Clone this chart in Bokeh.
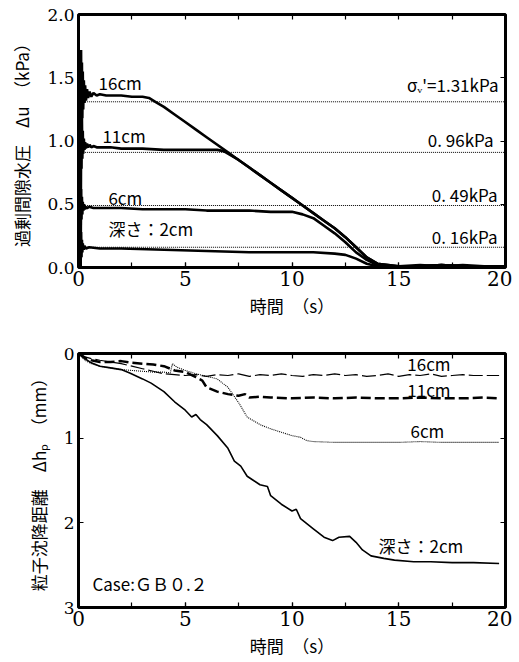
from bokeh.plotting import figure
from bokeh.models import (LinearAxis, Range1d, SingleIntervalTicker, Label,
                          NumeralTickFormatter, CustomJSTickFormatter)
from bokeh.layouts import column
from bokeh.embed import file_html
from bokeh.resources import INLINE

# ---------------- data: excess pore pressure (top) ----------------
t16 = [0.0, 0.10, 0.12, 0.14, 0.16, 0.18, 0.20, 0.22, 0.25, 0.28,
       0.31, 0.35, 0.40, 0.45, 0.52, 0.60, 0.70, 0.85, 1.0, 1.3,
       1.6, 2.0, 2.5, 3.0, 3.3, 3.6, 4.0, 4.5, 5.0, 5.5,
       6.0, 6.5, 7.0, 7.5, 8.0, 8.5, 9.0, 9.5, 10.0, 10.5,
       11.0, 11.5, 12.0, 12.5, 13.0, 13.5, 14.0, 14.5, 15.0, 16.0,
       17.0, 18.0, 19.0, 20.0]
u16 = [0.0, 0.0, 1.72, 1.05, 1.62, 1.18, 1.55, 1.25, 1.48, 1.30,
       1.44, 1.32, 1.41, 1.34, 1.39, 1.35, 1.38, 1.36, 1.37, 1.36,
       1.36, 1.36, 1.35, 1.35, 1.34, 1.31, 1.27, 1.21, 1.15, 1.09,
       1.03, 0.97, 0.91, 0.85, 0.79, 0.73, 0.67, 0.61, 0.55, 0.49,
       0.43, 0.37, 0.31, 0.24, 0.16, 0.08, 0.03, 0.02, 0.01, 0.02,
       0.01, 0.02, 0.01, 0.01]

t11 = [0.0, 0.10, 0.12, 0.14, 0.16, 0.18, 0.20, 0.22, 0.25, 0.28,
       0.31, 0.35, 0.40, 0.45, 0.52, 0.60, 0.70, 0.85, 1.0, 1.5,
       2.0, 3.0, 4.0, 5.0, 6.0, 6.5, 6.8, 7.0, 7.5, 8.0,
       8.5, 9.0, 9.5, 10.0, 10.5, 11.0, 11.5, 12.0, 12.5, 13.0,
       13.5, 14.0, 14.5, 15.0, 16.0, 17.0, 18.0, 19.0, 20.0]
u11 = [0.0, 0.0, 1.30, 0.78, 1.18, 0.86, 1.08, 0.90, 1.02, 0.93,
       0.99, 0.94, 0.98, 0.95, 0.97, 0.95, 0.96, 0.95, 0.95, 0.95,
       0.94, 0.94, 0.93, 0.93, 0.93, 0.93, 0.92, 0.90, 0.85, 0.79,
       0.73, 0.67, 0.61, 0.55, 0.49, 0.43, 0.37, 0.31, 0.24, 0.16,
       0.08, 0.03, 0.02, 0.01, 0.01, 0.02, 0.01, 0.01, 0.01]

t6 = [0.0, 0.10, 0.12, 0.14, 0.16, 0.18, 0.20, 0.23, 0.26, 0.30,
      0.35, 0.40, 0.50, 0.70, 1.0, 2.0, 3.0, 4.0, 5.0, 6.0,
      7.0, 8.0, 9.0, 9.5, 10.0, 10.5, 11.0, 11.5, 12.0, 12.5,
      13.0, 13.5, 14.0, 14.5, 15.0, 16.0, 17.0, 18.0, 19.0, 20.0]
u6 = [0.0, 0.0, 0.62, 0.38, 0.56, 0.42, 0.52, 0.45, 0.50, 0.46,
      0.48, 0.47, 0.48, 0.47, 0.47, 0.47, 0.46, 0.46, 0.46, 0.45,
      0.45, 0.45, 0.44, 0.44, 0.44, 0.42, 0.39, 0.33, 0.27, 0.20,
      0.12, 0.06, 0.02, 0.01, 0.01, 0.01, 0.02, 0.01, 0.01, 0.01]

t2 = [0.0, 0.10, 0.12, 0.14, 0.16, 0.18, 0.20, 0.24, 0.28, 0.35,
      0.50, 1.0, 2.0, 4.0, 6.0, 8.0, 10.0, 11.0, 12.0, 12.5,
      13.0, 13.5, 14.0, 14.5, 15.0, 16.0, 17.0, 18.0, 19.0, 20.0]
u2 = [0.0, 0.0, 0.28, 0.08, 0.22, 0.12, 0.19, 0.14, 0.17, 0.15,
      0.16, 0.15, 0.15, 0.14, 0.13, 0.12, 0.12, 0.12, 0.11, 0.10,
      0.07, 0.03, 0.01, 0.01, 0.01, 0.01, 0.02, 0.01, 0.01, 0.01]

sigma_levels = [1.31, 0.91, 0.49, 0.16]
sigma_texts = ["σᵥ'=1.31kPa", "0. 96kPa", "0. 49kPa", "0. 16kPa"]

# ---------------- data: particle settlement (bottom) ----------------
ts2 = [0, 0.3, 0.6, 1.0, 1.5, 2.0, 2.4, 3.0, 3.4, 4.0,
       4.5, 5.0, 5.3, 5.5, 5.7, 6.0, 6.5, 7.0, 7.3, 7.6,
       7.9, 8.2, 8.5, 8.85, 9.0, 9.5, 10.0, 10.2, 10.4, 11.0,
       11.5, 11.9, 12.2, 12.7, 13.0, 13.3, 13.7, 14.3, 14.8, 15.7,
       16.5, 17.5, 18.5, 19.7]
hs2 = [0, 0.06, 0.11, 0.15, 0.17, 0.19, 0.23, 0.30, 0.35, 0.45,
       0.57, 0.67, 0.75, 0.72, 0.78, 0.84, 0.97, 1.12, 1.27, 1.33,
       1.45, 1.50, 1.55, 1.57, 1.68, 1.78, 1.86, 1.84, 1.95, 2.07,
       2.17, 2.21, 2.17, 2.16, 2.23, 2.32, 2.39, 2.42, 2.44, 2.46,
       2.46, 2.47, 2.47, 2.48]

ts6 = [0, 0.3, 0.6, 1.0, 1.5, 2.0, 2.5, 3.0, 3.5, 4.0,
       4.3, 4.4, 4.6, 5.0, 5.5, 6.0, 6.5, 7.0, 7.5, 7.9,
       8.5, 9.0, 9.5, 10.0, 10.4, 10.7, 11, 12, 13, 14,
       15, 16, 17, 18, 19, 19.7]
hs6 = [0, 0.08, 0.12, 0.15, 0.17, 0.19, 0.20, 0.21, 0.22, 0.22,
       0.23, 0.12, 0.16, 0.20, 0.24, 0.27, 0.30, 0.40, 0.58, 0.75,
       0.84, 0.89, 0.93, 0.97, 0.99, 1.03, 1.04, 1.05, 1.05, 1.05,
       1.05, 1.04, 1.05, 1.05, 1.05, 1.05]

ts11 = [0, 0.3, 0.6, 1.0, 1.5, 2.0, 2.5, 3.0, 3.5, 4.0,
        4.5, 5.0, 5.5, 5.8, 6.0, 6.5, 7.0, 7.5, 7.8, 8.0,
        8.5, 9, 10, 11, 12, 13, 14, 15, 16, 17,
        18, 19, 19.7]
hs11 = [0, 0.05, 0.08, 0.10, 0.10, 0.09, 0.11, 0.12, 0.13, 0.15,
        0.20, 0.22, 0.28, 0.32, 0.40, 0.45, 0.48, 0.50, 0.48, 0.52,
        0.51, 0.52, 0.53, 0.52, 0.53, 0.52, 0.53, 0.53, 0.52, 0.53,
        0.53, 0.52, 0.53]

ts16 = [0, 0.3, 0.6, 1.0, 1.5, 2.0, 2.5, 3.0, 3.5, 4.0,
        4.5, 5.0, 5.5, 6.0, 6.5, 7.0, 7.5, 8.0, 8.5, 9.0,
        9.5, 10.0, 10.5, 11.0, 11.5, 12.0, 12.5, 13.0, 13.5, 14.0,
        14.5, 15.0, 15.5, 16.0, 16.5, 17.0, 17.5, 18.0, 18.5, 19.0,
        19.7]
hs16 = [0, 0.04, 0.06, 0.08, 0.10, 0.12, 0.15, 0.18, 0.21, 0.24,
        0.25, 0.26, 0.25, 0.27, 0.25, 0.26, 0.24, 0.27, 0.25, 0.26,
        0.24, 0.26, 0.27, 0.25, 0.26, 0.24, 0.26, 0.25, 0.27, 0.26,
        0.24, 0.27, 0.25, 0.26, 0.24, 0.27, 0.26, 0.25, 0.26, 0.26,
        0.26]

JP = "Noto Sans CJK JP"
SERIF = "DejaVu Serif"
blank = CustomJSTickFormatter(code="return ''")


def style(p, yticker, mirror_yticker, yfmt=None):
    p.grid.visible = False
    p.outline_line_color = "black"
    p.outline_line_width = 3
    p.background_fill_color = "white"
    p.border_fill_color = "white"
    for ax in (p.xaxis[0], p.yaxis[0]):
        ax.axis_line_color = None
        ax.major_tick_in = 5
        ax.major_tick_out = 0
        ax.minor_tick_in = 5
        ax.minor_tick_out = 0
        ax.major_tick_line_width = 1.2
        ax.minor_tick_line_width = 1.2
        ax.major_label_text_font = SERIF
        ax.major_label_text_color = "black"
        ax.axis_label_text_font = JP
        ax.axis_label_text_font_style = "normal"
        ax.axis_label_text_font_size = "17px"
        ax.axis_label_text_color = "black"
    p.xaxis[0].ticker = SingleIntervalTicker(interval=5, num_minor_ticks=2)
    p.xaxis[0].major_label_text_font_size = "20px"
    p.xaxis[0].major_label_standoff = 3
    p.xaxis[0].axis_label = "時間　（s）"
    p.xaxis[0].axis_label_standoff = 4
    p.yaxis[0].ticker = yticker
    p.yaxis[0].major_label_text_font_size = "17px"
    p.yaxis[0].major_label_standoff = 4
    p.yaxis[0].axis_label_standoff = 10
    if yfmt is not None:
        p.yaxis[0].formatter = yfmt
    top = LinearAxis(ticker=SingleIntervalTicker(interval=2.5), formatter=blank)
    right = LinearAxis(ticker=mirror_yticker, formatter=blank)
    for ax in (top, right):
        ax.axis_line_color = None
        ax.major_tick_in = 5
        ax.major_tick_out = 0
        ax.minor_tick_in = 0
        ax.minor_tick_out = 0
        ax.major_tick_line_width = 1.2
        ax.major_label_text_font_size = "0px"
        ax.major_label_standoff = 0
    p.add_layout(top, "above")
    p.add_layout(right, "right")


# ---------------- top figure ----------------
p1 = figure(width=512, height=320, x_range=Range1d(0, 20), y_range=Range1d(0, 2),
            output_backend="svg", toolbar_location=None,
            min_border_left=78, min_border_right=7, min_border_top=14, min_border_bottom=51)
style(p1, SingleIntervalTicker(interval=0.5, num_minor_ticks=0),
      SingleIntervalTicker(interval=0.5, num_minor_ticks=0),
      NumeralTickFormatter(format="0.0"))
p1.yaxis[0].axis_label = "過剰間隙水圧　Δu　（kPa）"

p1.segment(x0=0.3, x1=20, y0=sigma_levels, y1=sigma_levels,
           line_color="black", line_width=1, line_dash="1 1")
for tt, uu in ((t2, u2), (t6, u6), (t11, u11), (t16, u16)):
    p1.line(tt, uu, line_color="black", line_width=2.6)

lab_kw = dict(text_font=JP, text_font_size="17px", text_color="black",
              text_baseline="middle")
p1.add_layout(Label(x=0.94, y=1.465, text="16cm", **lab_kw))
p1.add_layout(Label(x=1.12, y=1.045, text="11cm", **lab_kw))
p1.add_layout(Label(x=1.4, y=0.55, text="6cm", **lab_kw))
p1.add_layout(Label(x=1.4, y=0.306, text="深さ：2cm", **lab_kw))
for xx, yy, tx in zip([19.67, 19.44, 19.63, 19.63], [1.445, 1.013, 0.58, 0.245], sigma_texts):
    p1.add_layout(Label(x=xx, y=yy, text=tx, text_align="right", **lab_kw))

# ---------------- bottom figure ----------------
p2 = figure(width=512, height=340, x_range=Range1d(0, 20), y_range=Range1d(3, 0),
            output_backend="svg", toolbar_location=None,
            min_border_left=78, min_border_right=7, min_border_top=33, min_border_bottom=51)
style(p2, SingleIntervalTicker(interval=1, num_minor_ticks=0),
      SingleIntervalTicker(interval=1, num_minor_ticks=0))
p2.yaxis[0].axis_label = "粒子沈降距離　Δhₚ　（mm）"

p2.line(ts16, hs16, line_color="black", line_width=1.2, line_dash="14 4")
p2.line(ts11, hs11, line_color="black", line_width=2.5, line_dash="10 4")
p2.line(ts6, hs6, line_color="black", line_width=1.1, line_dash="1 1")
p2.line(ts2, hs2, line_color="black", line_width=1.6)

p2.add_layout(Label(x=15.4, y=0.12, text="16cm", **lab_kw))
p2.add_layout(Label(x=15.4, y=0.43, text="11cm", **lab_kw))
p2.add_layout(Label(x=15.55, y=0.91, text="6cm", **lab_kw))
p2.add_layout(Label(x=14.05, y=2.27, text="深さ：2cm", **lab_kw))
p2.add_layout(Label(x=0.65, y=2.72, text="Case:ＧＢ０.２", **lab_kw))

layout = column(p1, p2, spacing=0)
open("out.html", "w").write(file_html(layout, INLINE))
